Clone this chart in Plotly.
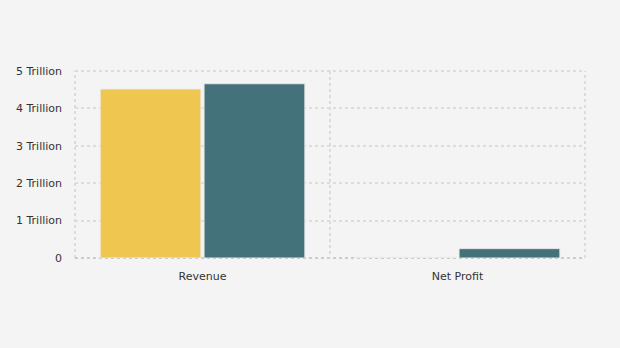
import plotly.graph_objects as go

categories = ["Revenue", "Net Profit"]
series_a = [4.52e12, 0.02e12]
series_b = [4.66e12, 0.25e12]
y_tick_vals = [0, 1e12, 2e12, 3e12, 4e12, 5e12]
y_tick_text = ["0", "1 Trillion", "2 Trillion", "3 Trillion", "4 Trillion", "5 Trillion"]

fig = go.Figure()
fig.add_trace(go.Bar(x=categories, y=series_a, name="A",
                     marker=dict(color="#efc64f", line=dict(color="#eeeeee", width=1))))
fig.add_trace(go.Bar(x=categories, y=series_b, name="B",
                     marker=dict(color="#43727b", line=dict(color="#e4e4e4", width=1))))

gcol = "#dcdcdc"
grid = dict(showgrid=True, gridcolor=gcol, griddash="3px,3px", gridwidth=2)
fig.update_layout(
    width=620, height=348,
    margin=dict(l=75, r=35, t=71, b=90),
    paper_bgcolor="#f4f4f4", plot_bgcolor="#f4f4f4",
    barmode="group", bargap=0.185, bargroupgap=0.03,
    showlegend=False,
    font=dict(family="DejaVu Sans", size=11, color="#333333"),
    xaxis=dict(type="category", tickson="boundaries", ticks="",
               ticklabelstandoff=10, showline=False,
               zeroline=False, **grid),
    yaxis=dict(range=[0, 5e12], tickvals=y_tick_vals, ticktext=y_tick_text,
               zeroline=False, showline=False, ticks="",
               ticklabelstandoff=12, **grid),
)
# plot-frame dotted border (left, right, top) and bottom axis line
for x0, y0, x1, y1, col in [(0, 0, 0, 1, gcol), (1, 0, 1, 1, gcol), (0, 1, 1, 1, gcol),
                            (0, 0, 1, 0, "#cccccc")]:
    fig.add_shape(type="line", xref="x domain", yref="y domain",
                  x0=x0, y0=y0, x1=x1, y1=y1,
                  line=dict(color=col, width=2, dash="3px,3px"), layer="below")
fig.write_html("out.html")
